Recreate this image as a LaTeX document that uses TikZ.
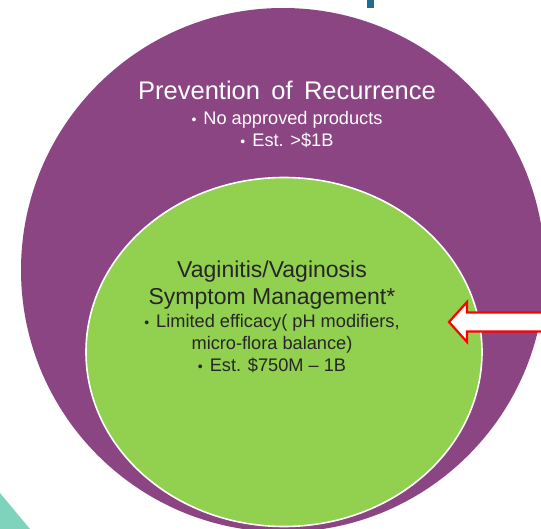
\documentclass[tikz,border=0pt]{standalone}
\usepackage{fontspec}
\setmainfont{Liberation Sans}
\usepackage{tikz}
\usetikzlibrary{shapes,positioning}
\definecolor{plum}{RGB}{140,69,131}
\definecolor{leaf}{RGB}{146,208,80}
\definecolor{mint}{RGB}{127,210,188}
\definecolor{steel}{RGB}{31,110,140}
\definecolor{ink}{RGB}{38,38,38}
\newcommand{\dotitem}{\raisebox{0.5pt}{\fontsize{14}{14}\selectfont•}\hspace{7pt}}
\tikzstyle{market} = [circle, fill=plum, minimum size=524pt, inner sep=0pt]
\tikzstyle{segment} = [ellipse, fill=leaf, draw=white, line width=1.6pt, minimum width=396pt, minimum height=349pt, inner sep=0pt]
\tikzstyle{headline} = [inner sep=0pt, anchor=base, font=\fontsize{25.5}{30}\selectfont]
\tikzstyle{bullet} = [inner sep=0pt, anchor=base, font=\fontsize{18.2}{22}\selectfont]
\tikzstyle{blockarrow} = [draw=red, fill=white, line width=2.2pt, line join=miter]

\begin{document}
\begin{tikzpicture}[x=1pt, y=-1pt]
	\useasboundingbox (0,0) rectangle (541,529);
	\clip (0,0) rectangle (541,529);
	
	% corners of the slide
	\fill [mint] (0,493) -- (30,529) -- (0,529) -- cycle;
	\fill [steel] (367,0) rectangle (374,8);
	
	\node [market] (recurrence) at (283,270) {};
	\node [segment] (symptom) at (284,352) {};
	
	\node [headline, text=white] (recurrencetitle) at (287,100) {Prevention\, of\, Recurrence};
	\node [bullet, text=white] (recurrence1) at (287,125) {\dotitem No approved products};
	\node [bullet, text=white] (recurrence2) at (287,147) {\dotitem Est. >\$1B};
	
	\node [headline, text=ink, font=\fontsize{23}{27}\selectfont] (symptomtitle1) at (272,278) {Vaginitis/Vaginosis};
	\node [headline, text=ink, font=\fontsize{23}{27}\selectfont] (symptomtitle2) at (272,305) {Symptom Management*};
	\node [bullet, text=ink] (symptom1) at (272,328) {\dotitem Limited efficacy( pH modifiers,};
	\node [bullet, text=ink] (symptom2) at (272,350) {micro-flora balance)};
	\node [bullet, text=ink] (symptom3) at (272,372) {\dotitem Est. \$750M – 1B};
	
	\path [blockarrow] (449,322) -- ++(18,-20) -- ++(0,10.5) -- ++(85,0) -- ++(0,19) -- ++(-85,0) -- ++(0,10.5) -- cycle;
\end{tikzpicture}
\end{document}
